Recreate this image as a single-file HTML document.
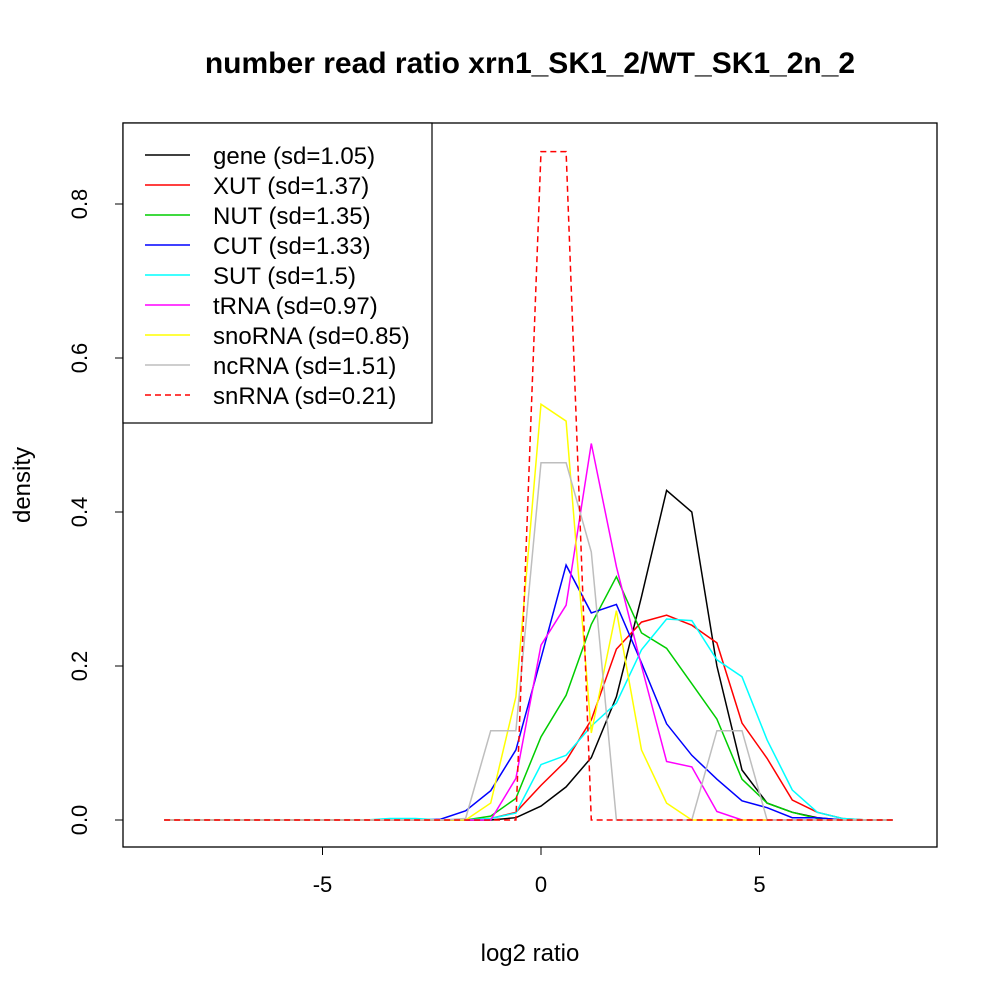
<!DOCTYPE html>
<html><head><meta charset="utf-8"><style>
body{margin:0;background:#fff;}
svg{display:block;font-family:"Liberation Sans",Arial,sans-serif;}
</style></head><body>
<svg id="chart" width="1000" height="1000" viewBox="0 0 1000 1000">
<rect width="1000" height="1000" fill="#fff"/>
<text x="530" y="73" text-anchor="middle" font-size="30" font-weight="bold">number read ratio xrn1_SK1_2/WT_SK1_2n_2</text>
<rect x="123" y="123" width="814" height="724" fill="none" stroke="#000" stroke-width="1.3"/>
<g id="axes"></g>
<g id="series"></g>
<text x="530" y="961" text-anchor="middle" font-size="24">log2 ratio</text>
<text transform="translate(30,485) rotate(-90)" text-anchor="middle" font-size="24">density</text>
<g id="legend"></g>
</svg>
<script>
const kIdx=[-15,-14,-13,-12,-11,-10,-9,-8,-7,-6,-5,-4,-3,-2,-1,0,1,2,3,4,5,6,7,8,9,10,11,12,13,14];
const step=0.575;
const gene=[0,0,0,0,0,0,0,0,0,0,0,0,0,0,0.003,0.018,0.043,0.081,0.16,0.29,0.428,0.40,0.2,0.065,0.022,0.01,0.003,0,0,0];
const xut=[0,0,0,0,0,0,0,0,0,0,0,0,0,0.002,0.01,0.045,0.077,0.13,0.222,0.257,0.266,0.253,0.23,0.126,0.08,0.026,0.01,0.002,0,0];
const nut=[0,0,0,0,0,0,0,0,0,0,0,0,0,0.005,0.028,0.108,0.162,0.254,0.316,0.243,0.223,0.177,0.131,0.053,0.022,0.01,0.002,0,0,0];
const cut=[0,0,0,0,0,0,0,0,0,0,0,0.001,0.012,0.038,0.091,0.21,0.331,0.269,0.28,0.204,0.125,0.084,0.053,0.025,0.016,0.003,0.003,0,0,0];
const sut=[0,0,0,0,0,0,0,0,0,0.002,0.002,0,0,0.002,0.009,0.072,0.084,0.122,0.152,0.221,0.261,0.259,0.208,0.186,0.104,0.039,0.01,0.002,0,0];
const trna=[0,0,0,0,0,0,0,0,0,0,0,0,0,0,0.054,0.227,0.279,0.489,0.329,0.2,0.076,0.069,0.011,0,0,0,0,0,0,0];
const snorna=[0,0,0,0,0,0,0,0,0,0,0,0,0,0.022,0.16,0.54,0.518,0.113,0.272,0.091,0.022,0,0,0,0,0,0,0,0,0];
const ncrna=[0,0,0,0,0,0,0,0,0,0,0,0,0.002,0.116,0.116,0.464,0.464,0.348,0,0,0,0,0.116,0.116,0,0,0,0,0,0];
const snrna=[0,0,0,0,0,0,0,0,0,0,0,0,0,0,0,0.868,0.868,0,0,0,0,0,0,0,0,0,0,0,0,0];
const seriesNames=["gene (sd=1.05)","XUT (sd=1.37)","NUT (sd=1.35)","CUT (sd=1.33)","SUT (sd=1.5)","tRNA (sd=0.97)","snoRNA (sd=0.85)","ncRNA (sd=1.51)","snRNA (sd=0.21)"];
const xTicks=[-5,0,5];
const yTicks=[0,0.2,0.4,0.6,0.8];
const yTickLabels=["0.0","0.2","0.4","0.6","0.8"];

const X=v=>541+v*43.7;
const Y=v=>820-v*770;
const NS="http://www.w3.org/2000/svg";
function mk(t,a,p){const e=document.createElementNS(NS,t);for(const k in a)e.setAttribute(k,a[k]);p.appendChild(e);return e;}
const axes=document.getElementById('axes');
mk('line',{x1:X(-5),x2:X(5),y1:847,y2:847,stroke:'#000'},axes);
xTicks.forEach(t=>{
 const l=mk('line',{x1:X(t),x2:X(t),y1:847,y2:855,stroke:'#000'},axes);
 
 
 const tx=mk('text',{x:X(t),y:892,'text-anchor':'middle','font-size':22},axes);
 tx.textContent=t<0?'-'+Math.abs(t):String(t);
 
 
});
mk('line',{x1:123,x2:123,y1:Y(0),y2:Y(0.8),stroke:'#000'},axes);
yTicks.forEach((t,i)=>{
 const l=mk('line',{x1:115,x2:123,y1:Y(t),y2:Y(t),stroke:'#000'},axes);
 
 
 const tx=mk('text',{transform:`translate(87,${Y(t)}) rotate(-90)`,'text-anchor':'middle','font-size':22},axes);
 tx.textContent=yTickLabels[i];
 
 
});
const data=[gene,xut,nut,cut,sut,trna,snorna,ncrna,snrna];
const colors=["#000","#f00","#00cd00","#00f","#0ff","#f0f","#ff0","#bebebe","#f00"];
const ids=["gene","xut","nut","cut","sut","trna","snorna","ncrna","snrna"];
const sg=document.getElementById('series');
data.forEach((arr,s)=>{
 const pts=arr.map((v,i)=>X(kIdx[i]*step).toFixed(1)+','+Y(v).toFixed(1)).join(' ');
 const p=mk('polyline',{points:pts,fill:'none',stroke:colors[s],'stroke-width':1.5},sg);
 if(s===8)p.setAttribute('stroke-dasharray','6,4');
 
 
});
const lg=document.getElementById('legend');
mk('rect',{x:123,y:123,width:309,height:300,fill:'#fff',stroke:'#000','stroke-width':1.2},lg);
seriesNames.forEach((n,i)=>{
 const y=155+i*30;
 const g=mk('g',{},lg);
 
 
 const l=mk('line',{x1:145,x2:190,y1:y,y2:y,stroke:colors[i],'stroke-width':1.5},g);
 if(i===8)l.setAttribute('stroke-dasharray','6,4');
 const t=mk('text',{x:213,y:y+9,'font-size':24},g);
 t.textContent=n;
});
</script>
</body></html>
